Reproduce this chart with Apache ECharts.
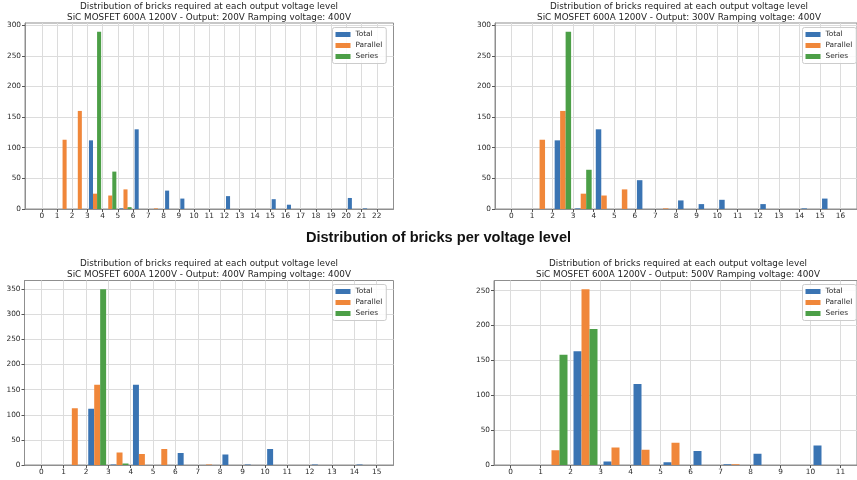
<!DOCTYPE html>
<html>
<head>
<meta charset="utf-8">
<title>Distribution of bricks per voltage level</title>
<script src="https://cdn.jsdelivr.net/npm/echarts@6/dist/echarts.min.js"></script>
<style>
  html, body { margin: 0; padding: 0; background: #fff; }
  #chart { width: 857px; height: 480px; }
</style>
</head>
<body>
<div id="chart"></div>
<script>
// Histogram counts per unit-wide bin (bin k covers [k, k+1)).
const seriesNames = ['Total', 'Parallel', 'Series'];
const seriesColors = ['#3a74b3', '#f0873a', '#4c9f47'];

// Output 200V
const xTicks200 = [0,1,2,3,4,5,6,7,8,9,10,11,12,13,14,15,16,17,18,19,20,21,22];
const total200    = [0,0,0,112,0,1,130,0,30,17,0,0,21,0,0,16,7,0,0,0,18,1];
const parallel200 = [0,113,160,25,22,32,0,1,0,0,0,0,0,0,0,0,0,0,0,0,0,0];
const series200   = [0,0,0,289,61,3,0,0,0,0,0,0,0,0,0,0,0,0,0,0,0,0];

// Output 300V
const xTicks300 = [0,1,2,3,4,5,6,7,8,9,10,11,12,13,14,15,16];
const total300    = [0,0,112,1,130,0,47,0,14,8,15,0,8,0,1,17];
const parallel300 = [0,113,160,25,22,32,0,1,0,0,0,0,0,0,0,0];
const series300   = [0,0,289,64,0,0,0,0,0,0,0,0,0,0,0,0];

// Output 400V
const xTicks400 = [0,1,2,3,4,5,6,7,8,9,10,11,12,13,14,15];
const total400    = [0,0,112,1,160,0,24,0,21,1,32,0,1,0,1];
const parallel400 = [0,113,160,25,22,32,0,1,0,0,0,0,0,0,0];
const series400   = [0,0,350,3,0,0,0,0,0,0,0,0,0,0,0];

// Output 500V
const xTicks500 = [0,1,2,3,4,5,6,7,8,9,10,11];
const total500    = [0,0,163,5,116,4,20,1,16,0,28];
const parallel500 = [0,21,252,25,22,32,0,1,0,0,0];
const series500   = [0,158,195,0,0,0,0,0,0,0,0];

const yTicks300 = [0,50,100,150,200,250,300];
const yTicks350 = [0,50,100,150,200,250,300,350];
const yTicks250 = [0,50,100,150,200,250];

const panelTitles = [
  'Distribution of bricks required at each output voltage level\nSiC MOSFET 600A 1200V - Output: 200V Ramping voltage: 400V',
  'Distribution of bricks required at each output voltage level\nSiC MOSFET 600A 1200V - Output: 300V Ramping voltage: 400V',
  'Distribution of bricks required at each output voltage level\nSiC MOSFET 600A 1200V - Output: 400V Ramping voltage: 400V',
  'Distribution of bricks required at each output voltage level\nSiC MOSFET 600A 1200V - Output: 500V Ramping voltage: 400V'
];
const figureTitle = 'Distribution of bricks per voltage level';

const panels = [
  { ticks: xTicks200, yTicks: yTicks300, data: [total200, parallel200, series200] },
  { ticks: xTicks300, yTicks: yTicks300, data: [total300, parallel300, series300] },
  { ticks: xTicks400, yTicks: yTicks350, data: [total400, parallel400, series400] },
  { ticks: xTicks500, yTicks: yTicks250, data: [total500, parallel500, series500] }
];

// Axes rectangles (pixels) and legend anchors
const grids = [
  { left: 25,  top: 23,    width: 368.5, height: 186 },
  { left: 495, top: 23,    width: 368.5, height: 186 },
  { left: 24.5, top: 280.5, width: 369, height: 184.5 },
  { left: 494, top: 280.5, width: 368.5, height: 184.5 }
];
const legendPos = [
  { left: 332.5, top: 27.5 },
  { left: 802.5, top: 27.5 },
  { left: 332.5, top: 284.5 },
  { left: 802.5, top: 284.5 }
];
const titlePos = [
  { x: 209, y: 12 }, { x: 679, y: 12 }, { x: 209, y: 269.3 }, { x: 678, y: 269.3 }
];

const FONT = '"DejaVu Sans", sans-serif';
const SPINE = '#8f8f8f';
const GRIDLINE = '#dcdcdc';
const TEXT = '#2a2a2a';

// Matplotlib-style grouped histogram bars: 80% of the bin shared by 3 bars
const BAR_W = 0.8 / 3;
function barRenderer(slot) {
  return function (params, api) {
    const start = api.value(0);
    const count = api.value(1);
    if (!count) return null;
    const x0 = start + 0.1 + slot * BAR_W;
    const a = api.coord([x0, count]);
    const b = api.coord([x0 + BAR_W, 0]);
    return {
      type: 'rect',
      shape: { x: a[0], y: a[1], width: b[0] - a[0], height: b[1] - a[1] },
      style: { fill: api.visual('color') }
    };
  };
}

const option = {
  animation: false,
  backgroundColor: '#ffffff',
  textStyle: { fontFamily: FONT },
  grid: grids.map(g => Object.assign({
    show: true, borderColor: SPINE, borderWidth: 1, backgroundColor: 'transparent', containLabel: false
  }, g)),
  xAxis: panels.map((p, i) => {
    const n = p.ticks[p.ticks.length - 1];
    return {
      type: 'value', gridIndex: i,
      min: -0.05 * n, max: 1.05 * n,
      axisLine: { show: true, onZero: false, lineStyle: { color: SPINE, width: 1 } },
      axisTick: { show: true, inside: false, length: 3, customValues: p.ticks, lineStyle: { color: '#555', width: 1 } },
      axisLabel: { show: true, customValues: p.ticks, margin: 4, fontSize: 7.35, color: TEXT, fontFamily: FONT },
      splitLine: { show: true, lineStyle: { color: GRIDLINE, width: 1 } }
    };
  }),
  yAxis: panels.map((p, i) => {
    const top = Math.max(...p.data.map(d => Math.max(...d))) * 1.05;
    return {
      type: 'value', gridIndex: i,
      min: 0, max: top,
      axisLine: { show: true, onZero: false, lineStyle: { color: SPINE, width: 1 } },
      axisTick: { show: true, inside: false, length: 3, customValues: p.yTicks, lineStyle: { color: '#555', width: 1 } },
      axisLabel: { show: true, customValues: p.yTicks, margin: 4, fontSize: 7.35, color: TEXT, fontFamily: FONT },
      splitLine: { show: true, lineStyle: { color: GRIDLINE, width: 1 } }
    };
  }),
  legend: legendPos.map(pos => ({
    orient: 'vertical',
    left: pos.left, top: pos.top,
    data: seriesNames,
    icon: 'rect',
    itemWidth: 15, itemHeight: 5, itemGap: 3, itemTextGap: 5,
    padding: [3, 4, 3, 3],
    backgroundColor: 'rgba(255,255,255,0.85)',
    borderColor: '#cccccc', borderWidth: 1, borderRadius: 2,
    selectedMode: false,
    textStyle: { fontSize: 7.35, lineHeight: 8, color: TEXT, fontFamily: FONT }
  })),
  graphic: [
    ...panelTitles.map((t, i) => ({
      type: 'text', x: titlePos[i].x, y: titlePos[i].y, silent: true,
      style: {
        text: t, fill: '#1e1e1e', fontSize: 8.8, fontFamily: FONT, lineHeight: 10.6,
        align: 'center', verticalAlign: 'middle'
      }
    })),
    {
      type: 'text', x: 438.5, y: 237.5, silent: true,
      style: {
        text: figureTitle, fill: '#111', fontSize: 14.6, fontWeight: 'bold',
        fontFamily: '"Liberation Sans", Arial, sans-serif', align: 'center', verticalAlign: 'middle'
      }
    }
  ],
  series: []
};

panels.forEach((p, i) => {
  p.data.forEach((counts, s) => {
    option.series.push({
      type: 'custom',
      name: seriesNames[s],
      xAxisIndex: i, yAxisIndex: i,
      clip: true,
      itemStyle: { color: seriesColors[s] },
      encode: { x: 0, y: 1 },
      renderItem: barRenderer(s),
      data: counts.map((c, k) => [k, c])
    });
  });
});

const chart = echarts.init(document.getElementById('chart'), null, { renderer: 'canvas', width: 857, height: 480 });
chart.setOption(option);
</script>
</body>
</html>
